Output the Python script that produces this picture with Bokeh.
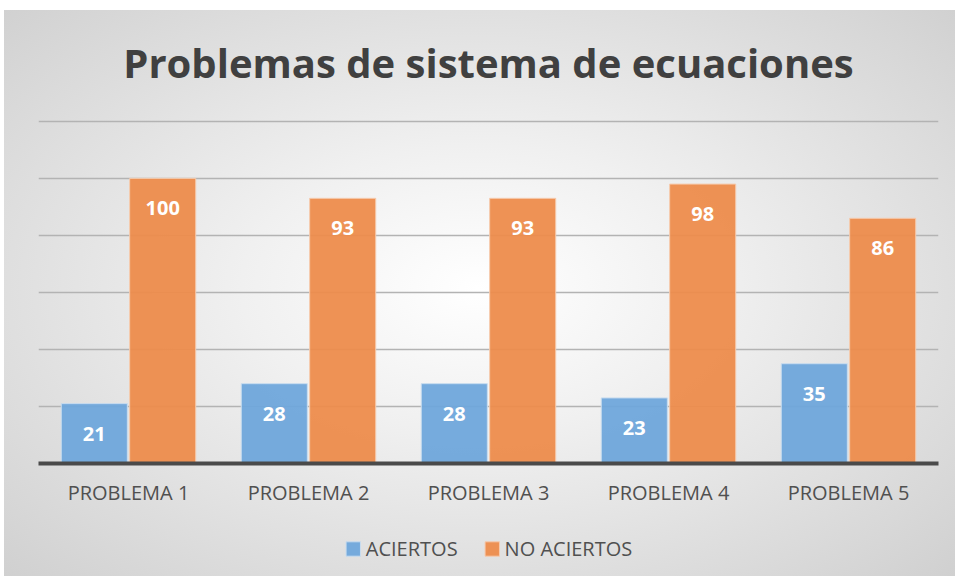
from bokeh.plotting import figure
from bokeh.layouts import column
from bokeh.models import FactorRange, ColumnDataSource, Legend, LegendItem, Range1d, FixedTicker
from bokeh.transform import dodge
from bokeh.core.properties import value
from bokeh.embed import file_html
from bokeh.resources import INLINE

categories = ["PROBLEMA 1", "PROBLEMA 2", "PROBLEMA 3", "PROBLEMA 4", "PROBLEMA 5"]
aciertos = [21, 28, 28, 23, 35]
no_aciertos = [100, 93, 93, 98, 86]
series_names = ["ACIERTOS", "NO ACIERTOS"]
grid_ticks = [0, 20, 40, 60, 80, 100, 120]

src = ColumnDataSource(dict(
    cat=categories,
    a=aciertos,
    n=no_aciertos,
    a_txt=[str(v) for v in aciertos],
    n_txt=[str(v) for v in no_aciertos],
))

BLUE = "#6fa7db"
ORANGE = "#ed8c4c"
BLUE_EDGE = "#c8dcef"
ORANGE_EDGE = "#f6cbae"

W = 955
p = figure(
    x_range=FactorRange(factors=categories, range_padding=0),
    y_range=Range1d(0, 121),
    width=W, height=520,
    output_backend="svg", toolbar_location=None,
    min_border_left=38, min_border_right=17, min_border_top=118, min_border_bottom=57,
)
p.border_fill_color = None
p.background_fill_color = None
p.outline_line_color = None

p.title.text = "Problemas de sistema de ecuaciones"
p.title.align = "center"
p.title.text_font = "Open Sans"
p.title.text_font_style = "bold"
p.title.text_font_size = "40px"
p.title.text_color = "#404040"
p.title.standoff = 57

p.yaxis.visible = False
p.ygrid.ticker = FixedTicker(ticks=grid_ticks)
p.ygrid.grid_line_color = "#b3b3b3"
p.ygrid.grid_line_width = 1.5
p.xgrid.grid_line_color = None

xa = p.xaxis[0]
xa.axis_line_color = "#4a4a4a"
xa.axis_line_width = 4
xa.major_tick_line_color = None
xa.major_tick_out = 0
xa.major_tick_in = 0
xa.minor_tick_line_color = None
xa.major_label_text_font = "Open Sans"
xa.major_label_text_font_size = "20px"
xa.major_label_text_color = "#505050"
xa.major_label_standoff = 15

bar_a = dict(fill_color=BLUE, fill_alpha=0.95, line_color=BLUE_EDGE, line_width=1)
bar_n = dict(fill_color=ORANGE, fill_alpha=0.95, line_color=ORANGE_EDGE, line_width=1)

p.vbar(x=dodge("cat", -0.19, range=p.x_range), top="a", width=0.367, source=src, **bar_a)
p.vbar(x=dodge("cat", 0.19, range=p.x_range), top="n", width=0.367, source=src, **bar_n)

for col, txt, off in (("a", "a_txt", -0.19), ("n", "n_txt", 0.19)):
    p.text(x=dodge("cat", off, range=p.x_range), y=col, text=txt, source=src,
           text_font=value("Open Sans"), text_font_style="bold", text_font_size="20px",
           text_color="white", text_align="center", text_baseline="middle", y_offset=30)

# legend strip beneath the chart (its bars lie outside its visible y range)
lf = figure(width=W, height=56, x_range=p.x_range, y_range=Range1d(500, 600),
            output_backend="svg", toolbar_location=None,
            min_border_left=0, min_border_right=0, min_border_top=0, min_border_bottom=0)
lf.axis.visible = False
lf.grid.visible = False
lf.border_fill_color = None
lf.background_fill_color = None
lf.outline_line_color = None
lb = lf.vbar(x=dodge("cat", -0.19, range=p.x_range), top="a", width=0.367, source=src, **bar_a)
lo = lf.vbar(x=dodge("cat", 0.19, range=p.x_range), top="n", width=0.367, source=src, **bar_n)
legend = Legend(items=[LegendItem(label=series_names[0], renderers=[lb]),
                       LegendItem(label=series_names[1], renderers=[lo])],
                orientation="horizontal", location="center",
                background_fill_alpha=0, border_line_color=None,
                label_text_font="Open Sans", label_text_font_size="20px",
                label_text_color="#505050", glyph_width=18, glyph_height=18,
                spacing=25, margin=0, padding=4, label_standoff=4)
lf.add_layout(legend, "center")

layout = column(p, lf, spacing=0)
layout.styles = {"background": ("linear-gradient(#ffffff,#ffffff) 0 0 / 100% 10px no-repeat, "
                                "linear-gradient(#ffffff,#ffffff) 0 0 / 4px 100% no-repeat, "
                                "radial-gradient(ellipse at 50% 50%, #ffffff 0%, #f0f0f0 35%, #d0d0d0 100%)")}

open("out.html", "w").write(file_html(layout, INLINE))
